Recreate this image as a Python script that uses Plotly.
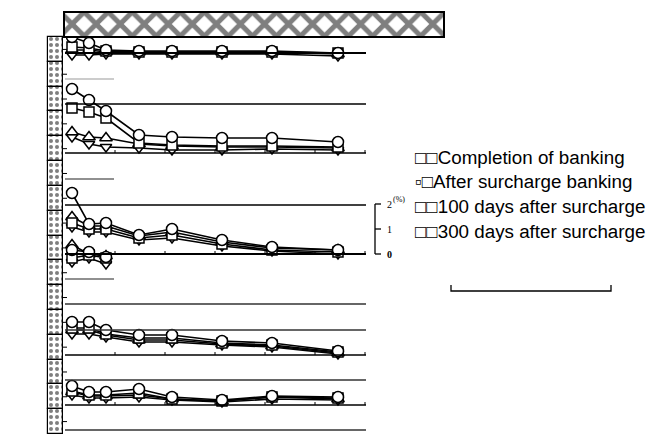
import plotly.graph_objects as go

# ---------------- data ----------------
# sampling positions along the time axis (axis units, ticks every 50)
sample_x = [7, 24, 41, 74, 107, 157, 207, 273]
short_x = [7, 24, 41]

series_names = ["Completion of banking", "After surcharge banking",
                "100 days after surcharge", "300 days after surcharge"]

# values in % (25 px per 1 %), one dict per panel, relative to its baseline
panel1 = {
    "circle": [0.64, 0.40, 0.12, 0.08, 0.08, 0.08, 0.08, 0.00],
    "square": [0.24, 0.20, 0.08, 0.04, 0.04, 0.04, 0.04, 0.00],
    "triup": [0.12, 0.12, 0.04, 0.04, 0.04, 0.04, 0.04, -0.04],
    "tridown": [-0.08, -0.08, -0.04, -0.04, -0.04, -0.04, -0.04, -0.12],
}
panel2 = {
    "circle": [2.56, 2.12, 1.68, 0.72, 0.64, 0.60, 0.60, 0.44],
    "square": [1.80, 1.64, 1.40, 0.40, 0.32, 0.28, 0.28, 0.24],
    "triup": [0.84, 0.64, 0.60, 0.36, 0.28, 0.24, 0.24, 0.20],
    "tridown": [0.64, 0.36, 0.24, 0.20, 0.12, 0.12, 0.16, 0.12],
}
panel3 = {
    "circle": [2.44, 1.20, 1.24, 0.76, 1.00, 0.56, 0.28, 0.16],
    "square": [1.24, 1.00, 1.00, 0.64, 0.76, 0.40, 0.16, 0.08],
    "triup": [1.48, 1.12, 1.12, 0.72, 0.88, 0.48, 0.24, 0.16],
    "tridown": [1.08, 0.88, 0.88, 0.56, 0.64, 0.32, 0.12, 0.00],
}
panel3_short = {
    "circle": [0.16, 0.08, -0.12],
    "square": [-0.16, -0.04, -0.16],
    "triup": [0.36, 0.00, -0.08],
    "tridown": [-0.32, -0.16, -0.40],
}
panel4 = {
    "circle": [1.32, 1.32, 1.00, 0.80, 0.80, 0.56, 0.48, 0.16],
    "square": [1.08, 1.08, 0.84, 0.68, 0.68, 0.48, 0.40, 0.12],
    "triup": [1.00, 1.00, 0.80, 0.60, 0.60, 0.44, 0.36, 0.08],
    "tridown": [0.84, 0.84, 0.72, 0.52, 0.52, 0.40, 0.32, 0.04],
}
panel5 = {
    "circle": [0.76, 0.52, 0.52, 0.64, 0.32, 0.20, 0.36, 0.32],
    "square": [0.56, 0.40, 0.40, 0.48, 0.24, 0.16, 0.32, 0.28],
    "triup": [0.52, 0.36, 0.36, 0.40, 0.24, 0.16, 0.32, 0.24],
    "tridown": [0.40, 0.28, 0.28, 0.32, 0.20, 0.12, 0.24, 0.20],
}

scale_labels = ["0", "1", "2"]
axis_ticks = [50, 100, 150, 200, 250, 300]

# ---------------- layout helpers ----------------
W, H = 658, 434
PX_PER_PCT = 25.0
X0, X1 = 65, 366


def pct(ypx):
    return (H - ypx) / PX_PER_PCT


panels = [
    (panel1, sample_x, pct(53)),
    (panel2, sample_x, pct(153)),
    (panel3, sample_x, pct(254)),
    (panel3_short, short_x, pct(254)),
    (panel4, sample_x, pct(355)),
    (panel5, sample_x, pct(405)),
]
key_order = ["tridown", "triup", "square", "circle"]
sym = {"circle": "circle", "square": "square", "triup": "triangle-up", "tridown": "triangle-down"}
msize = {"circle": 11, "square": 10, "triup": 11, "tridown": 10}

fig = go.Figure()

# decorations in pixel coordinates (x2/y2)
# hatched box at top
fig.add_trace(go.Bar(x=[(64 + 444) / 2], y=[25], base=[12], width=[380],
                     marker=dict(color="white",
                                 pattern=dict(shape="x", fgcolor="black", bgcolor="white",
                                              size=17, solidity=0.5),
                                 line=dict(color="black", width=2)),
                     showlegend=False, xaxis="x2", yaxis="y2", hoverinfo="skip"))
# dotted strip at left
n_box = 16
box_h = (H - 37) / n_box
fig.add_trace(go.Bar(x=[55.5] * n_box, y=[box_h] * n_box,
                     base=[37 + i * box_h for i in range(n_box)], width=[15] * n_box,
                     marker=dict(color="white",
                                 pattern=dict(shape=".", fgcolor="black", bgcolor="white",
                                              size=6, solidity=0.35),
                                 line=dict(color="black", width=1.2)),
                     showlegend=False, xaxis="x2", yaxis="y2", hoverinfo="skip"))

for data, xs, off in panels:
    for k in key_order:
        fig.add_trace(go.Scatter(
            x=xs, y=[v + off for v in data[k]], mode="lines+markers",
            line=dict(color="black", width=1.6),
            marker=dict(symbol=sym[k], size=msize[k], color="white",
                        line=dict(color="black", width=1.5)),
            showlegend=False, xaxis="x", yaxis="y"))

shapes = []


def hline(y, x0=X0, x1=X1, color="black", width=1.3):
    shapes.append(dict(type="line", xref="x2", yref="y2", x0=x0, x1=x1, y0=y, y1=y,
                       line=dict(color=color, width=width), layer="below"))


for y in [53, 104, 153, 205, 254, 304, 330, 355, 380, 405, 430]:
    hline(y, width=1.8 if y in (53, 254) else 1.4,
          color="black" if y in (53, 104, 153, 205, 254, 355, 405) else "#333")
hline(79, X0, 114, color="#999", width=1.2)
hline(179, X0, 114, color="#222", width=1.2)
hline(279, X0, 114, color="#222", width=1.2)

# x ticks on baselines
for yb in [153, 254, 355, 405]:
    for t in axis_ticks:
        xp = X0 + t
        shapes.append(dict(type="line", xref="x2", yref="y2", x0=xp, x1=xp, y0=yb, y1=yb - 3,
                           line=dict(color="black", width=1)))
# little ticks on the strip
for i in range(n_box + 1):
    yy = 37 + i * box_h + box_h / 2
    if yy < H:
        shapes.append(dict(type="line", xref="x2", yref="y2", x0=63, x1=67, y0=yy, y1=yy,
                           line=dict(color="black", width=1)))

# scale bar
shapes.append(dict(type="line", xref="x2", yref="y2", x0=375, x1=375, y0=204, y1=254,
                   line=dict(color="black", width=1.3)))
for i, lab in enumerate(scale_labels):
    yy = 254 - i * PX_PER_PCT
    shapes.append(dict(type="line", xref="x2", yref="y2", x0=375, x1=381, y0=yy, y1=yy,
                       line=dict(color="black", width=1.3)))

# bottom bracket
shapes.append(dict(type="path", xref="x2", yref="y2",
                   path="M 451 285 L 451 291 L 611 291 L 611 285",
                   line=dict(color="black", width=1.3)))

annotations = []
for i, lab in enumerate(scale_labels):
    yy = 254 - i * PX_PER_PCT
    annotations.append(dict(x=385, y=yy, xref="x2", yref="y2",
                            text=("<b>%s</b>" % lab) if lab == "0" else lab,
                            showarrow=False, xanchor="left", yanchor="middle",
                            font=dict(family="Liberation Serif", size=10, color="black")))
annotations.append(dict(x=391, y=199, xref="x2", yref="y2", text="(%)", showarrow=False,
                        xanchor="left", yanchor="middle",
                        font=dict(family="Liberation Serif", size=8, color="black")))

legend_prefix = ["□□", "▫□", "□□", "□□"]
for i, name in enumerate(series_names):
    annotations.append(dict(x=413, y=157 + i * 24.7, xref="x2", yref="y2",
                            text=legend_prefix[i] + name, showarrow=False,
                            xanchor="left", yanchor="middle",
                            font=dict(family="Liberation Sans, Arial", size=18.8, color="black")))

fig.update_layout(
    width=W, height=H, margin=dict(l=0, r=0, t=0, b=0),
    paper_bgcolor="white", plot_bgcolor="rgba(0,0,0,0)",
    barmode="overlay", bargap=0,
    xaxis=dict(domain=[X0 / W, X1 / W], range=[0, X1 - X0], visible=False, fixedrange=True),
    yaxis=dict(domain=[0, 1], range=[0, H / PX_PER_PCT], visible=False, fixedrange=True),
    xaxis2=dict(domain=[0, 1], range=[0, W], visible=False, anchor="y2", fixedrange=True),
    yaxis2=dict(domain=[0, 1], range=[H, 0], visible=False, anchor="x2", fixedrange=True),
    shapes=shapes, annotations=annotations, showlegend=False,
)

fig.write_html("out.html")
